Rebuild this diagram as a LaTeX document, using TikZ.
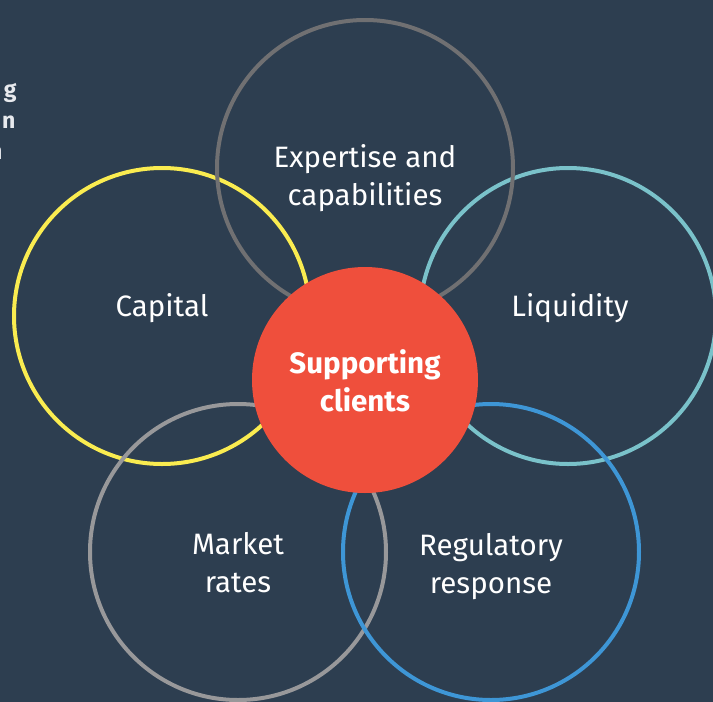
\documentclass[tikz,border=0pt]{standalone}
\usepackage{fontspec}
\setmainfont{Fira Sans}
\usepackage{tikz}

\definecolor{slate}{RGB}{45,62,80}
\definecolor{hubred}{RGB}{239,79,60}
\definecolor{capyellow}{RGB}{250,236,80}
\definecolor{liqteal}{RGB}{122,194,202}
\definecolor{regblue}{RGB}{62,150,214}
\definecolor{expgrey}{RGB}{112,112,114}
\definecolor{mktgrey}{RGB}{152,152,154}
\definecolor{sidetext}{RGB}{232,234,238}

\begin{document}
\begin{tikzpicture}[x=1pt,y=-1pt,
    ring/.style={circle,draw,line width=4pt,minimum size=296pt,inner sep=0pt},
    lbl/.style={text=white,align=center,font=\fontsize{29.5}{38}\selectfont},
    side/.style={anchor=base east,text=sidetext,font=\fontsize{23}{30}\selectfont\bfseries}]
    \fill[slate] (0,0) rectangle (713,702);
    \clip (0,0) rectangle (713,702);

    \node[side] (sideA) at (20,97) {g}; \node[side] (sideB) at (19,128) {n}; \node[side] (sideC) at (6,159) {n};

    \node[ring,draw=capyellow] (capital) at (162,316) {}; \node[ring,draw=liqteal] (liquidity) at (568,316) {}; \node[ring,draw=mktgrey] (market) at (238,552) {}; \node[ring,draw=regblue] (regulatory) at (491,552) {}; \node[ring,draw=expgrey] (expertise) at (365,168) {};
    \node[circle,fill=hubred,minimum size=226pt,inner sep=0pt] (hub) at (365,380) {};

    \node[lbl] (expertiseText) at (365,178) {Expertise and\\capabilities}; \node[lbl] (capitalText) at (162,308) {Capital}; \node[lbl] (liquidityText) at (570,308) {Liquidity}; \node[lbl] (marketText) at (238,563) {Market\\rates}; \node[lbl] (regulatoryText) at (491,567) {Regulatory\\response};
    \node[lbl,font=\fontsize{29.5}{38}\selectfont\bfseries] (hubText) at (365,381) {Supporting\\clients};
\end{tikzpicture}
\end{document}
